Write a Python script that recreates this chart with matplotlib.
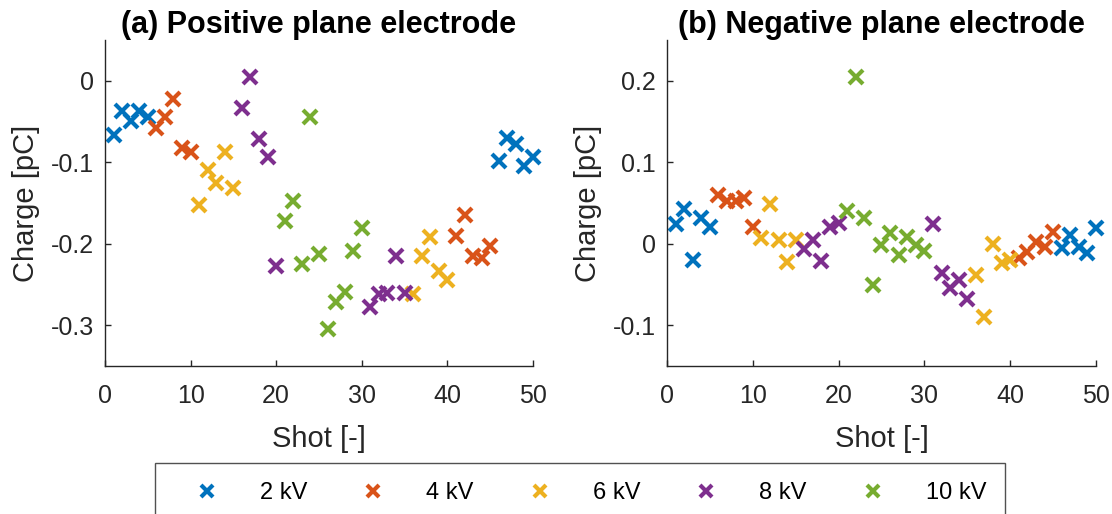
import numpy as np
import matplotlib
matplotlib.use('Agg')
import matplotlib.pyplot as plt
from matplotlib.lines import Line2D

plt.rcParams['font.family'] = ['Liberation Sans', 'DejaVu Sans']

# shot number and measured charge [pC]
shots = np.arange(1, 51)

charge_pos = [
    -0.066, -0.037, -0.050, -0.037, -0.045,
    -0.058, -0.044, -0.022, -0.083, -0.087,
    -0.153, -0.110, -0.125, -0.088, -0.131,
    -0.034, 0.004, -0.072, -0.093, -0.227,
    -0.172, -0.148, -0.225, -0.045, -0.212,
    -0.305, -0.271, -0.259, -0.209, -0.181,
    -0.277, -0.262, -0.260, -0.215, -0.260,
    -0.262, -0.215, -0.192, -0.233, -0.245,
    -0.191, -0.165, -0.215, -0.218, -0.203,
    -0.098, -0.070, -0.078, -0.105, -0.094,
]

charge_neg = [
    0.024, 0.043, -0.020, 0.032, 0.020,
    0.060, 0.052, 0.052, 0.056, 0.020,
    0.007, 0.049, 0.004, -0.022, 0.004,
    -0.006, 0.004, -0.021, 0.020, 0.025,
    0.040, 0.205, 0.031, -0.051, -0.001,
    0.013, -0.014, 0.008, -0.001, -0.009,
    0.024, -0.036, -0.054, -0.045, -0.068,
    -0.038, -0.090, 0.000, -0.023, -0.020,
    -0.018, -0.010, 0.002, -0.004, 0.014,
    -0.005, 0.011, -0.004, -0.011, 0.019,
]

# voltage of each block of 5 shots
block_kv = [2, 4, 6, 8, 10, 10, 8, 6, 4, 2]
shot_kv = np.repeat(block_kv, 5)

levels = [2, 4, 6, 8, 10]
colors = ['#0072BD', '#D95319', '#EDB120', '#7E2F8E', '#77AC30']

axis_col = '#262626'

fig = plt.figure(figsize=(11.12, 5.14), dpi=100)
ax1 = fig.add_axes([0.0944, 0.2879, 0.3849, 0.6343])
ax2 = fig.add_axes([0.5998, 0.2879, 0.3858, 0.6343])


def draw_panel(ax, charge, title, ylim, yticks):
    charge = np.asarray(charge)
    for kv, col in zip(levels, colors):
        m = shot_kv == kv
        ax.plot(shots[m], charge[m], 'x', color=col, markersize=10,
                markeredgewidth=3.0, clip_on=False)
    ax.set_xlim(0, 50)
    ax.set_ylim(*ylim)
    ax.set_xticks([0, 10, 20, 30, 40, 50])
    ax.set_yticks(yticks)
    ax.set_yticklabels([('%g' % t) for t in yticks])
    ax.spines['top'].set_visible(False)
    ax.spines['right'].set_visible(False)
    for s in ['left', 'bottom']:
        ax.spines[s].set_color(axis_col)
        ax.spines[s].set_linewidth(1.0)
    ax.tick_params(direction='in', length=4, width=1.0, colors=axis_col,
                   labelsize=18)
    ax.tick_params(axis='y', pad=8)
    ax.tick_params(axis='x', pad=13)
    ax.set_xlabel('Shot [-]', fontsize=21, color=axis_col, labelpad=12)
    ax.set_ylabel('Charge [pC]', fontsize=21, color=axis_col, labelpad=8)
    ax.set_title(title, fontsize=22, fontweight='bold', pad=4)


draw_panel(ax1, charge_pos, '(a) Positive plane electrode',
           (-0.35, 0.05), [-0.3, -0.2, -0.1, 0])
draw_panel(ax2, charge_neg, '(b) Negative plane electrode',
           (-0.15, 0.25), [-0.1, 0, 0.1, 0.2])

handles = [Line2D([], [], linestyle='none', marker='x', color=c,
                  markersize=9, markeredgewidth=3.0) for c in colors]
labels = ['%d kV' % kv for kv in levels]
leg = fig.legend(handles, labels, loc='upper left', ncol=5, mode='expand',
                 bbox_to_anchor=(0.1394, 0.0, 0.7644, 0.0992),
                 fontsize=17, frameon=True, fancybox=False, borderpad=0.8,
                 handlelength=2.8, handletextpad=0.85, borderaxespad=0)
leg.get_frame().set_edgecolor(axis_col)
leg.get_frame().set_linewidth(1.0)

fig.savefig('out.png', dpi=100)
